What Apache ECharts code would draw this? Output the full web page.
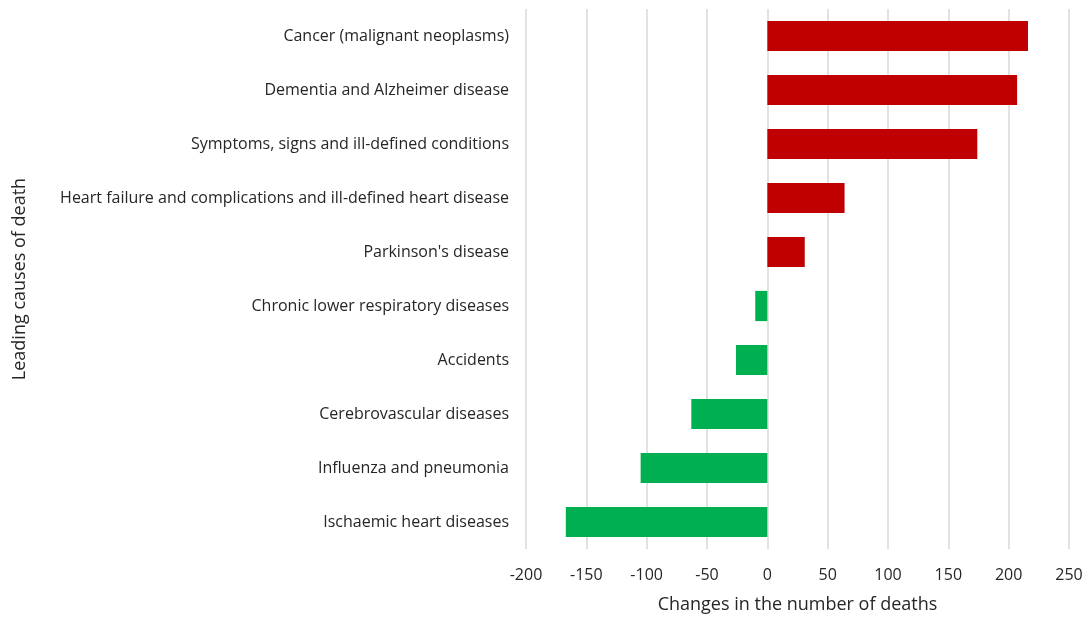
<!DOCTYPE html>
<html>
<head>
<meta charset="utf-8">
<script src="https://cdn.jsdelivr.net/npm/echarts@6/dist/echarts.min.js"></script>
<style>
  html, body { margin: 0; padding: 0; background: #fff; }
  #chart { width: 1087px; height: 619px; }
</style>
</head>
<body>
<div id="chart"></div>
<script>
// Leading causes of death, listed top to bottom
const causes = [
  'Cancer (malignant neoplasms)',
  'Dementia and Alzheimer disease',
  'Symptoms, signs and ill-defined conditions',
  'Heart failure and complications and ill-defined heart disease',
  "Parkinson's disease",
  'Chronic lower respiratory diseases',
  'Accidents',
  'Cerebrovascular diseases',
  'Influenza and pneumonia',
  'Ischaemic heart diseases'
];

// Change in the number of deaths for each cause
const changes = [216, 207, 174, 64, 31, -10, -26, -63, -105, -167];

const increaseColor = '#C00000';
const decreaseColor = '#00B050';
const font = '"Open Sans", "Noto Sans", sans-serif';
const textColor = '#262626';

const chart = echarts.init(document.getElementById('chart'));
chart.setOption({
  animation: false,
  grid: { left: 526, right: 18, top: 9, bottom: 68, containLabel: false },
  xAxis: {
    type: 'value',
    min: -200,
    max: 250,
    interval: 50,
    name: 'Changes in the number of deaths',
    nameLocation: 'middle',
    nameGap: 47,
    nameTextStyle: { fontFamily: font, fontSize: 18, color: textColor },
    axisLine: { show: false },
    axisTick: { show: false },
    axisLabel: { fontFamily: font, fontSize: 16, color: textColor, margin: 18 },
    splitLine: { show: true, lineStyle: { color: '#d9d9d9', width: 1.5 } }
  },
  yAxis: {
    type: 'category',
    data: causes,
    inverse: true,
    name: 'Leading causes of death',
    nameLocation: 'middle',
    nameRotate: 90,
    nameGap: 497,
    nameTextStyle: { fontFamily: font, fontSize: 18, color: textColor },
    axisLine: { show: false },
    axisTick: { show: false },
    axisLabel: { fontFamily: font, fontSize: 16, color: textColor, margin: 17 }
  },
  series: [{
    type: 'bar',
    data: changes,
    barWidth: '56%',
    itemStyle: {
      color: p => (p.value >= 0 ? increaseColor : decreaseColor)
    }
  }]
});
</script>
</body>
</html>
